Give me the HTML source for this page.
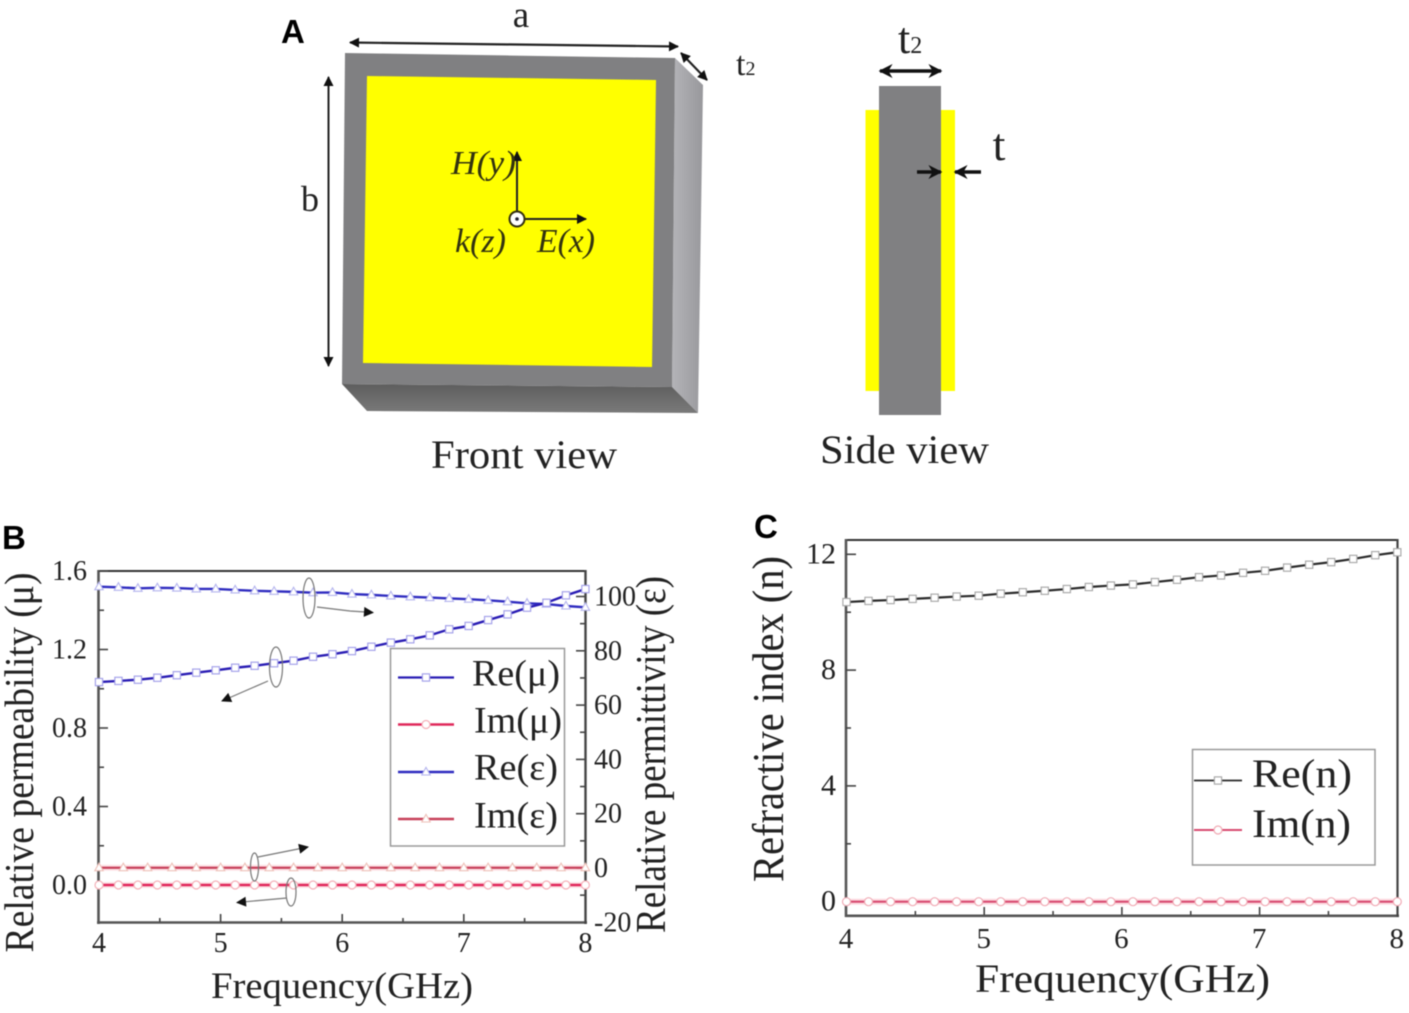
<!DOCTYPE html>
<html lang="en">
<head>
<meta charset="utf-8">
<title>Metamaterial unit cell and retrieved parameters</title>
<style>
html,body{margin:0;padding:0;background:#fff;width:1409px;height:1013px;overflow:hidden}
#figure{display:block;filter:blur(0.6px)}
text{font-family:"Liberation Serif",serif;fill:#222}
.panel-label{font-family:"Liberation Sans",sans-serif;font-weight:700;fill:#000}
</style>
</head>
<body>
<svg id="figure" xmlns="http://www.w3.org/2000/svg" width="1409" height="1013" viewBox="0 0 1409 1013">
<defs>
<linearGradient id="gradRight" x1="0" x2="1" y1="0" y2="0"><stop offset="0" stop-color="#b4b4b8"/><stop offset="1" stop-color="#98989c"/></linearGradient>
<linearGradient id="gradBottom" x1="0" x2="0" y1="0" y2="1"><stop offset="0" stop-color="#5e5e5e"/><stop offset="1" stop-color="#7a7a7a"/></linearGradient>
<marker id="ah" viewBox="0 0 10 10" refX="9" refY="5" markerWidth="11" markerHeight="10" markerUnits="userSpaceOnUse" orient="auto-start-reverse"><path d="M0,0 L10,5 L0,10 Z" fill="#111"/></marker>
<marker id="ahBig" viewBox="0 0 10 10" refX="9" refY="5" markerWidth="14" markerHeight="18" markerUnits="userSpaceOnUse" orient="auto-start-reverse"><path d="M0,0 L10,5 L0,10 L3,5 Z" fill="#111"/></marker>
</defs>

<g id="panel-a">
<text class="panel-label" x="281" y="43" font-size="33">A</text>
<polygon points="675,58 703,85 698,413 672,387" fill="url(#gradRight)"/>
<polygon points="342,384 672,387 698,413 367,411" fill="url(#gradBottom)"/>
<polygon points="345,53 675,58 672,387 342,384" fill="#808082"/>
<polygon points="367,76 656,80 652,367 363,363" fill="#ffff00"/>
<line x1="350" y1="42.5" x2="678" y2="46.5" stroke="#222" stroke-width="2.2" marker-start="url(#ah)" marker-end="url(#ah)"/>
<line x1="681" y1="53" x2="707" y2="80" stroke="#222" stroke-width="2.2" marker-start="url(#ah)" marker-end="url(#ah)"/>
<line x1="328.5" y1="77" x2="328.5" y2="366" stroke="#222" stroke-width="2" marker-start="url(#ah)" marker-end="url(#ah)"/>
<text x="521" y="27" font-size="37" text-anchor="middle">a</text>
<text x="310" y="211" font-size="36" text-anchor="middle">b</text>
<text x="736" y="75" font-size="34">t<tspan font-size="20">2</tspan></text>
<line x1="517" y1="212" x2="517" y2="152" stroke="#222" stroke-width="2" marker-end="url(#ah)"/>
<line x1="525" y1="219" x2="586" y2="219" stroke="#222" stroke-width="2" marker-end="url(#ah)"/>
<circle cx="517" cy="219" r="7.5" fill="#fff" stroke="#332f10" stroke-width="2"/>
<circle cx="517" cy="219" r="1.8" fill="#223"/>
<text x="451" y="174" font-size="34" font-style="italic" textLength="65" lengthAdjust="spacingAndGlyphs" style="fill:#33330f">H(y)</text>
<text x="455" y="252" font-size="34" font-style="italic" textLength="51" lengthAdjust="spacingAndGlyphs" style="fill:#33330f">k(z)</text>
<text x="537" y="252" font-size="34" font-style="italic" textLength="58" lengthAdjust="spacingAndGlyphs" style="fill:#33330f">E(x)</text>
<text x="431" y="468" font-size="40" textLength="186" lengthAdjust="spacingAndGlyphs">Front view</text>

<rect x="865.5" y="110" width="89.5" height="281" fill="#ffff00"/>
<rect x="879" y="86" width="62" height="329" fill="#808082"/>
<line x1="880" y1="71" x2="941" y2="71" stroke="#111" stroke-width="3.5" marker-start="url(#ahBig)" marker-end="url(#ahBig)"/>
<line x1="917" y1="172" x2="941" y2="172" stroke="#111" stroke-width="3.5" marker-end="url(#ahBig)"/>
<line x1="981" y1="172" x2="955" y2="172" stroke="#111" stroke-width="3.5" marker-end="url(#ahBig)"/>
<text x="898" y="53" font-size="44">t<tspan font-size="24">2</tspan></text>
<text x="999" y="160" font-size="46" text-anchor="middle">t</text>
<text x="820" y="463" font-size="40" textLength="169" lengthAdjust="spacingAndGlyphs">Side view</text>
</g>

<g id="panel-b">
<text class="panel-label" x="2" y="549" font-size="33">B</text>
<text transform="translate(33,952.5) rotate(-90)" font-size="41" textLength="380" lengthAdjust="spacingAndGlyphs">Relative permeability (μ)</text>
<text transform="translate(665,933) rotate(-90)" font-size="42" textLength="357" lengthAdjust="spacingAndGlyphs">Relative permittivity (ε)</text>
<text x="211" y="998" font-size="37" textLength="262" lengthAdjust="spacingAndGlyphs">Frequency(GHz)</text>
<g id="b-axes"></g>
<g id="b-series"></g>
<g id="b-notes" fill="none" stroke="#777" stroke-width="1.2">
<ellipse cx="309" cy="598" rx="6" ry="20"/>
<path d="M317,607 L350,611 L373,612.5" marker-end="url(#ah)"/>
<ellipse cx="276" cy="667" rx="6.5" ry="20"/>
<path d="M268,681 L222,701" marker-end="url(#ah)"/>
<ellipse cx="254.5" cy="867" rx="4" ry="14"/>
<path d="M258,857 L308,847" marker-end="url(#ah)"/>
<ellipse cx="291" cy="892" rx="5" ry="14"/>
<path d="M287,898 L237,902.5" marker-end="url(#ah)"/>
</g>
<g id="b-legend">
<rect x="390.5" y="648.5" width="174" height="197.5" fill="#fff" stroke="#999" stroke-width="1.5"/>
<text x="472" y="685.5" font-size="37" textLength="88" lengthAdjust="spacingAndGlyphs">Re(μ)</text>
<text x="474" y="732.5" font-size="37" textLength="88" lengthAdjust="spacingAndGlyphs">Im(μ)</text>
<text x="474" y="779.5" font-size="37" textLength="84" lengthAdjust="spacingAndGlyphs">Re(ε)</text>
<text x="474" y="827.5" font-size="37" textLength="84" lengthAdjust="spacingAndGlyphs">Im(ε)</text>
</g>
</g>

<g id="panel-c">
<text class="panel-label" x="754" y="538" font-size="33">C</text>
<text transform="translate(783,882) rotate(-90)" font-size="44" textLength="326" lengthAdjust="spacingAndGlyphs">Refractive index (n)</text>
<text x="975" y="992" font-size="40" textLength="295" lengthAdjust="spacingAndGlyphs">Frequency(GHz)</text>
<g id="c-axes"></g>
<g id="c-series"></g>
<g id="c-legend">
<rect x="1192.5" y="749.5" width="182.5" height="115.5" fill="#fff" stroke="#999" stroke-width="1.5"/>
<text x="1252" y="787" font-size="40" textLength="100" lengthAdjust="spacingAndGlyphs">Re(n)</text>
<text x="1252" y="837" font-size="40" textLength="99" lengthAdjust="spacingAndGlyphs">Im(n)</text>
</g>
</g>
</svg>

<script>
/* ---------- chart data ---------- */
const freqFine = [4,4.16,4.32,4.48,4.64,4.8,4.96,5.12,5.28,5.44,5.6,5.76,5.92,6.08,6.24,6.4,6.56,6.72,6.88,7.04,7.2,7.36,7.52,7.68,7.84,8];
const freqCoarse = [4,4.2,4.4,4.6,4.8,5,5.2,5.4,5.6,5.8,6,6.2,6.4,6.6,6.8,7,7.2,7.4,7.6,7.8,8];
const reMu = [1.034,1.04,1.046,1.056,1.069,1.082,1.094,1.107,1.117,1.13,1.143,1.163,1.176,1.192,1.214,1.235,1.252,1.272,1.303,1.32,1.35,1.379,1.413,1.438,1.476,1.508];
const imMu = [0,0,0,0,0,0,0,0,0,0,0,0,0,0,0,0,0,0,0,0,0,0,0,0,0,0];
const reEps = [103.6,103.4,103,103.2,103.1,102.8,102.8,102.4,102.1,101.9,101.7,101.4,101.5,100.9,100.6,100.2,99.9,99.6,99.3,99,98.6,98.1,97.5,97.2,96.5,96];
const imEps = [0.1,0.1,0.1,0.1,0.1,0.1,0.1,0.1,0.1,0.1,0.1,0.1,0.1,0.1,0.1,0.1,0.1,0.1,0.1,0.1,0.1];
const reN = [10.35,10.39,10.42,10.46,10.5,10.54,10.57,10.64,10.69,10.74,10.8,10.87,10.92,10.96,11.04,11.12,11.21,11.27,11.36,11.43,11.54,11.64,11.73,11.84,11.97,12.07];
const imN = [0,0,0,0,0,0,0,0,0,0,0,0,0,0,0,0,0,0,0,0,0,0,0,0,0,0];
const freqTicks = [4,5,6,7,8];
const muTickLabels = ["0.0","0.4","0.8","1.2","1.6"];
const epsTickLabels = ["-20","0","20","40","60","80","100"];
const nTickLabels = ["0","4","8","12"];

/* ---------- axis functions ---------- */
const SVGNS = "http://www.w3.org/2000/svg";
const bX = f => 99 + (f - 4) * 121.6;
const bMuY = v => 885 - v * 196.25;
const bEpsY = v => 868 - v * 2.715;
const cX = f => 846.5 + (f - 4) * 137.7;
const cY = v => 901.7 - v * 28.95;

function make(parent, tag, attrs, text) {
  const el = document.createElementNS(SVGNS, tag);
  for (const k in attrs) el.setAttribute(k, attrs[k]);
  if (text !== undefined) el.textContent = text;
  parent.appendChild(el);
  return el;
}

function drawMarker(parent, kind, x, y, stroke, name) {
  let el;
  if (kind === "square") {
    el = make(parent, "rect", {x: x - 3.6, y: y - 3.6, width: 7.2, height: 7.2, fill: "#fff", stroke: stroke, "stroke-width": 1.2});
  } else if (kind === "triangle") {
    el = make(parent, "polygon", {points: (x) + "," + (y - 4.6) + " " + (x + 4.2) + "," + (y + 3) + " " + (x - 4.2) + "," + (y + 3), fill: "#fff", stroke: stroke, "stroke-width": 1.1});
  } else {
    el = make(parent, "circle", {cx: x, cy: y, r: 4, fill: "#fff", stroke: stroke, "stroke-width": 1.2});
  }
  
  
}

function drawSeries(parent, xs, ys, xFn, yFn, st, name) {
  const pts = ys.map((v, i) => xFn(xs[i]).toFixed(2) + "," + yFn(v).toFixed(2)).join(" ");
  if (st.halo) {
    const halo = make(parent, "polyline", {points: pts, fill: "none", stroke: st.halo, "stroke-width": 6});
    
    
  }
  const line = make(parent, "polyline", {points: pts, fill: "none", stroke: st.color, "stroke-width": st.width});
  
  
  ys.forEach((v, i) => {
    drawMarker(parent, st.kind, xFn(xs[i]), yFn(v), st.mark, name + '-point');
  });
}

function drawLegendKey(parent, x1, x2, y, st, name) {
  const line = make(parent, "line", {x1: x1, x2: x2, y1: y, y2: y, stroke: st.color, "stroke-width": st.legendWidth || 2});
  
  
  drawMarker(parent, st.kind, (x1 + x2) / 2, y, st.mark, name + '-key-marker');
}

function seg(parent, x1, y1, x2, y2, color, w, name) {
  const el = make(parent, "line", {x1: x1, y1: y1, x2: x2, y2: y2, stroke: color, "stroke-width": w});
  
  
}

function label(parent, x, y, size, anchor, str, name) {
  const el = make(parent, "text", {x: x, y: y, "font-size": size, "text-anchor": anchor}, str);
  
  
}

/* ---------- styles ---------- */
const stReMu = {color: "#2a1db4", mark: "#a5a2ea", kind: "square", width: 2.4, legendWidth: 2.2};
const stReEps = {color: "#2f2cc0", mark: "#b4b4ee", kind: "triangle", width: 2.4, legendWidth: 2.4};
const stImMu = {color: "#e0275a", halo: "rgba(250,190,200,.45)", mark: "#f4b0b8", kind: "circle", width: 2.4, legendWidth: 2.6};
const stImEps = {color: "#c8405a", halo: "rgba(250,190,200,.45)", mark: "#eec0b8", kind: "triangle", width: 2.2, legendWidth: 2.4};
const stReN = {color: "#2a2a2a", mark: "#aaa", kind: "square", width: 2.2, legendWidth: 1.8};
const stImN = {color: "#d84a70", halo: "rgba(250,190,200,.55)", mark: "#f0aab4", kind: "circle", width: 2.2, legendWidth: 2};

/* ---------- chart B ---------- */
const bAxes = document.getElementById("b-axes");
seg(bAxes, 98.5, 571, 586, 571, "#333", 2, "top-axis-b");
seg(bAxes, 98.5, 570, 98.5, 924, "#555", 2.6, "left-axis-b");
seg(bAxes, 97, 922.5, 587, 922.5, "#555", 2.6, "bottom-axis-b");
seg(bAxes, 585.5, 570, 585.5, 924, "#444", 2.4, "right-axis-b");
freqTicks.forEach(f => {
  if (f > 4 && f < 8) seg(bAxes, bX(f), 922, bX(f), 914, "#444", 1.6, "x-tick-b");
  if (f < 8) seg(bAxes, bX(f + 0.5), 922, bX(f + 0.5), 918, "#444", 1.6, "x-minor-tick-b");
  label(bAxes, bX(f), 952, 28, "middle", String(f), "x-tick-label-b");
});
muTickLabels.forEach(s => {
  const v = parseFloat(s);
  seg(bAxes, 99, bMuY(v), 108, bMuY(v), "#444", 1.6, "left-tick-b");
  if (v < 1.6) seg(bAxes, 99, bMuY(v + 0.2), 104, bMuY(v + 0.2), "#444", 1.6, "left-minor-tick-b");
  label(bAxes, 87, bMuY(v) + 9, 28, "end", s, "left-tick-label-b");
});
epsTickLabels.forEach(s => {
  const v = parseFloat(s);
  if (v > -20) seg(bAxes, 585, bEpsY(v), 576, bEpsY(v), "#444", 1.6, "right-tick-b");
  if (v < 100) seg(bAxes, 585, bEpsY(v + 10), 580, bEpsY(v + 10), "#444", 1.6, "right-minor-tick-b");
  label(bAxes, 594, bEpsY(v) + 9, 28, "start", s, "right-tick-label-b");
});

const bSeries = document.getElementById("b-series");
drawSeries(bSeries, freqFine, reEps, bX, bEpsY, stReEps, "series-re-eps");
drawSeries(bSeries, freqFine, reMu, bX, bMuY, stReMu, "series-re-mu");
drawSeries(bSeries, freqCoarse, imEps, bX, bEpsY, stImEps, "series-im-eps");
drawSeries(bSeries, freqFine, imMu, bX, bMuY, stImMu, "series-im-mu");

const bLegend = document.getElementById("b-legend");
drawLegendKey(bLegend, 398, 454, 677.5, stReMu, "legend-re-mu");
drawLegendKey(bLegend, 398, 454, 724.5, stImMu, "legend-im-mu");
drawLegendKey(bLegend, 398, 454, 772, stReEps, "legend-re-eps");
drawLegendKey(bLegend, 398, 454, 819, stImEps, "legend-im-eps");

/* ---------- chart C ---------- */
const cAxes = document.getElementById("c-axes");
seg(cAxes, 846, 540, 1398, 540, "#333", 2, "top-axis-c");
seg(cAxes, 846, 539, 846, 917, "#555", 2.6, "left-axis-c");
seg(cAxes, 845, 915.8, 1399, 915.8, "#555", 2.6, "bottom-axis-c");
seg(cAxes, 1397.5, 539, 1397.5, 917, "#444", 2.2, "right-axis-c");
freqTicks.forEach(f => {
  if (f > 4 && f < 8) seg(cAxes, cX(f), 915, cX(f), 907, "#444", 1.6, "x-tick-c");
  if (f < 8) seg(cAxes, cX(f + 0.5), 915, cX(f + 0.5), 911, "#444", 1.6, "x-minor-tick-c");
  label(cAxes, cX(f) - 0.5, 948, 29, "middle", String(f), "x-tick-label-c");
});
nTickLabels.forEach(s => {
  const v = parseFloat(s);
  seg(cAxes, 846, cY(v), 856, cY(v), "#444", 1.6, "y-tick-c");
  if (v < 12) seg(cAxes, 846, cY(v + 2), 851, cY(v + 2), "#444", 1.6, "y-minor-tick-c");
  label(cAxes, 836, cY(v) + 9, 30, "end", s, "y-tick-label-c");
});

const cSeries = document.getElementById("c-series");
drawSeries(cSeries, freqFine, reN, cX, cY, stReN, "series-re-n");
drawSeries(cSeries, freqFine, imN, cX, cY, stImN, "series-im-n");

const cLegend = document.getElementById("c-legend");
drawLegendKey(cLegend, 1194, 1242, 780.5, stReN, "legend-re-n");
drawLegendKey(cLegend, 1194, 1242, 830, stImN, "legend-im-n");
</script>
</body>
</html>
